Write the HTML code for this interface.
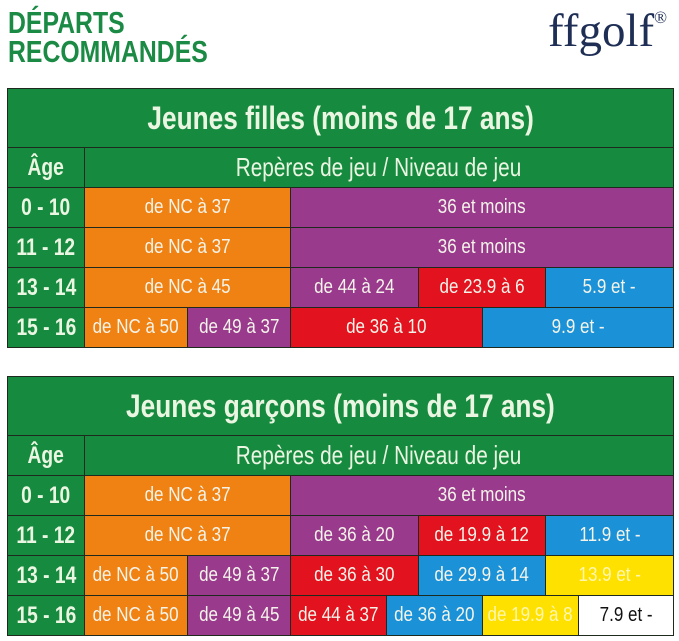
<!DOCTYPE html>
<html><head><meta charset="utf-8"><style>
body{margin:0;width:679px;height:641px;background:#fff;position:relative;overflow:hidden;font-family:"Liberation Sans",sans-serif}
.c{position:absolute;border:1px solid #1e2a1e;box-sizing:border-box;display:flex;align-items:center;justify-content:center;color:#f4f4ea;white-space:nowrap;overflow:visible}
.c span{display:inline-block;transform:scaleX(0.85);font-size:20px}
.g{background:#168a3e}.o{background:#f08214}.p{background:#9a3a8c}.r{background:#e2121e}.b{background:#1b92d8}.y{background:#ffe100;color:#fff6b0}.w{background:#fff;color:#111}
.t span{font-size:32px;font-weight:bold;transform:scaleX(0.82);color:#eaf6e2}
.a span{font-size:24px;font-weight:bold;transform:scaleX(0.8);color:#eaf6e2}
.h span{font-size:26px;transform:scaleX(0.8);color:#eaf6e2}
.ttl{position:absolute;left:8px;color:#1a8a44;font-weight:bold;font-size:31px;line-height:30px;transform-origin:left top;transform:scaleX(0.8)}
.logo{position:absolute;left:548px;top:4px;font-family:"Liberation Serif",serif;font-size:47px;color:#1e2e55}
</style></head><body>
<div class="ttl" style="top:8px">DÉPARTS</div>
<div class="ttl" style="top:37px">RECOMMANDÉS</div>
<div class="logo">ffgolf<sup style="font-size:17px;position:relative;top:-6px">®</sup></div>

<div class="c g t" style="left:7px;top:88px;width:667px;height:60px"><span>Jeunes filles (moins de 17 ans)</span></div>
<div class="c g a" style="left:7px;top:147px;width:78px;height:41px"><span>Âge</span></div>
<div class="c g h" style="left:84px;top:147px;width:590px;height:41px"><span>Repères de jeu / Niveau de jeu</span></div>

<div class="c g a" style="left:7px;top:187px;width:78px;height:41px"><span>0 - 10</span></div>
<div class="c o" style="left:84px;top:187px;width:207px;height:41px"><span>de NC à 37</span></div>
<div class="c p" style="left:290px;top:187px;width:384px;height:41px"><span>36 et moins</span></div>

<div class="c g a" style="left:7px;top:227px;width:78px;height:41px"><span>11 - 12</span></div>
<div class="c o" style="left:84px;top:227px;width:207px;height:41px"><span>de NC à 37</span></div>
<div class="c p" style="left:290px;top:227px;width:384px;height:41px"><span>36 et moins</span></div>

<div class="c g a" style="left:7px;top:267px;width:78px;height:41px"><span>13 - 14</span></div>
<div class="c o" style="left:84px;top:267px;width:207px;height:41px"><span>de NC à 45</span></div>
<div class="c p" style="left:290px;top:267px;width:129px;height:41px"><span>de 44 à 24</span></div>
<div class="c r" style="left:418px;top:267px;width:128px;height:41px"><span>de 23.9 à 6</span></div>
<div class="c b" style="left:545px;top:267px;width:129px;height:41px"><span>5.9 et -</span></div>

<div class="c g a" style="left:7px;top:307px;width:78px;height:41px"><span>15 - 16</span></div>
<div class="c o" style="left:84px;top:307px;width:104px;height:41px"><span>de NC à 50</span></div>
<div class="c p" style="left:187px;top:307px;width:104px;height:41px"><span>de 49 à 37</span></div>
<div class="c r" style="left:290px;top:307px;width:193px;height:41px"><span>de 36 à 10</span></div>
<div class="c b" style="left:482px;top:307px;width:192px;height:41px"><span>9.9 et -</span></div>

<div class="c g t" style="left:7px;top:376px;width:667px;height:60px"><span>Jeunes garçons (moins de 17 ans)</span></div>
<div class="c g a" style="left:7px;top:435px;width:78px;height:41px"><span>Âge</span></div>
<div class="c g h" style="left:84px;top:435px;width:590px;height:41px"><span>Repères de jeu / Niveau de jeu</span></div>

<div class="c g a" style="left:7px;top:475px;width:78px;height:41px"><span>0 - 10</span></div>
<div class="c o" style="left:84px;top:475px;width:207px;height:41px"><span>de NC à 37</span></div>
<div class="c p" style="left:290px;top:475px;width:384px;height:41px"><span>36 et moins</span></div>

<div class="c g a" style="left:7px;top:515px;width:78px;height:41px"><span>11 - 12</span></div>
<div class="c o" style="left:84px;top:515px;width:207px;height:41px"><span>de NC à 37</span></div>
<div class="c p" style="left:290px;top:515px;width:129px;height:41px"><span>de 36 à 20</span></div>
<div class="c r" style="left:418px;top:515px;width:128px;height:41px"><span>de 19.9 à 12</span></div>
<div class="c b" style="left:545px;top:515px;width:129px;height:41px"><span>11.9 et -</span></div>

<div class="c g a" style="left:7px;top:555px;width:78px;height:41px"><span>13 - 14</span></div>
<div class="c o" style="left:84px;top:555px;width:104px;height:41px"><span>de NC à 50</span></div>
<div class="c p" style="left:187px;top:555px;width:104px;height:41px"><span>de 49 à 37</span></div>
<div class="c r" style="left:290px;top:555px;width:129px;height:41px"><span>de 36 à 30</span></div>
<div class="c b" style="left:418px;top:555px;width:128px;height:41px"><span>de 29.9 à 14</span></div>
<div class="c y" style="left:545px;top:555px;width:129px;height:41px"><span>13.9 et -</span></div>

<div class="c g a" style="left:7px;top:595px;width:78px;height:41px"><span>15 - 16</span></div>
<div class="c o" style="left:84px;top:595px;width:104px;height:41px"><span>de NC à 50</span></div>
<div class="c p" style="left:187px;top:595px;width:104px;height:41px"><span>de 49 à 45</span></div>
<div class="c r" style="left:290px;top:595px;width:97px;height:41px"><span>de 44 à 37</span></div>
<div class="c b" style="left:386px;top:595px;width:97px;height:41px"><span>de 36 à 20</span></div>
<div class="c y" style="left:482px;top:595px;width:97px;height:41px"><span>de 19.9 à 8</span></div>
<div class="c w" style="left:578px;top:595px;width:96px;height:41px"><span>7.9 et -</span></div>
</body></html>
